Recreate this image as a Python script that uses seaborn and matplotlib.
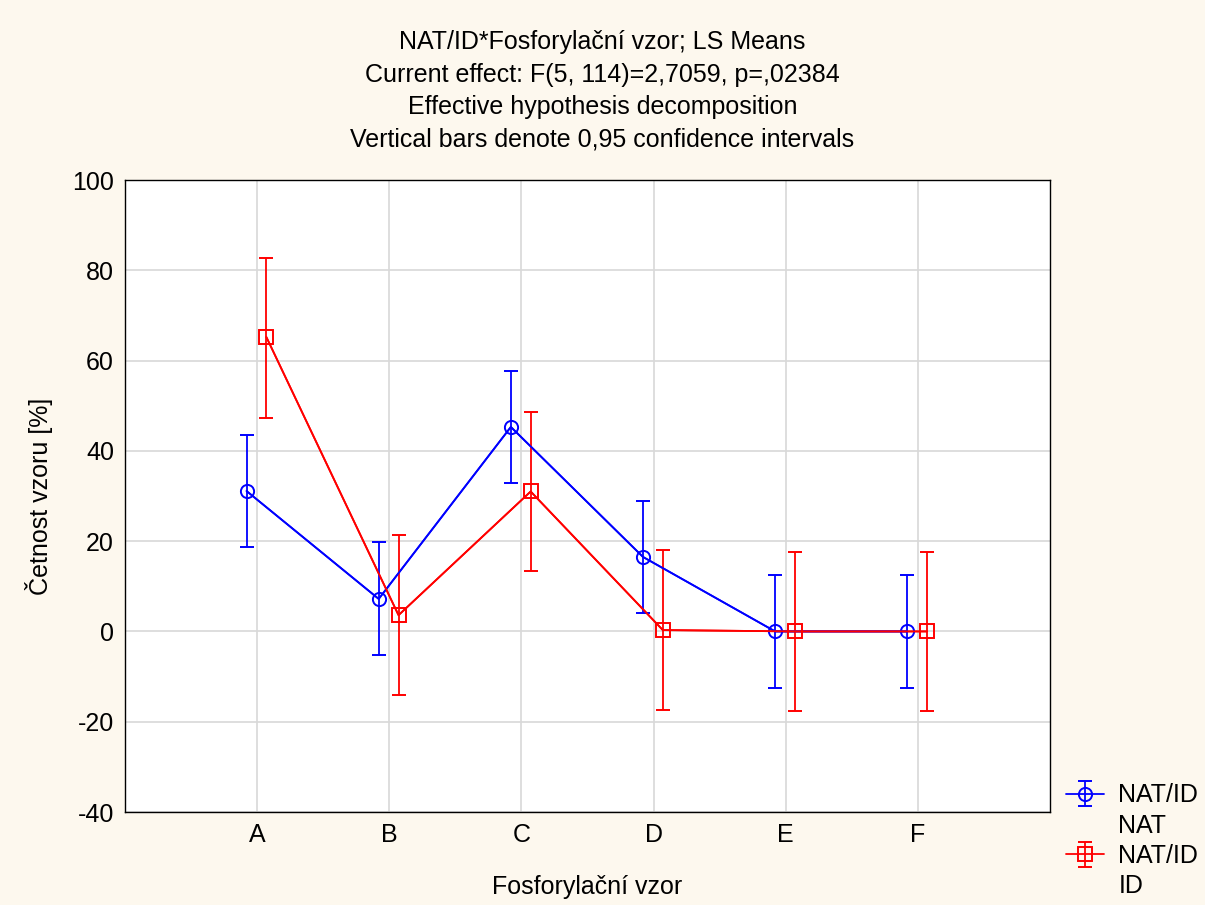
import numpy as np
import pandas as pd
import matplotlib
matplotlib.use("Agg")
import matplotlib.pyplot as plt
from matplotlib.lines import Line2D
import seaborn as sns

categories = ["A", "B", "C", "D", "E", "F"]
nat_mean = [31.1, 7.2, 45.3, 16.5, 0.0, 0.0]
nat_lo = [18.6, -5.3, 32.8, 4.0, -12.5, -12.5]
nat_hi = [43.6, 19.7, 57.8, 29.0, 12.5, 12.5]
id_mean = [65.2, 3.6, 31.0, 0.3, 0.0, 0.0]
id_lo = [47.3, -14.0, 13.3, -17.4, -17.7, -17.7]
id_hi = [82.8, 21.3, 48.7, 18.0, 17.7, 17.7]
groups = ["NAT", "ID"]
factor = "NAT/ID"
yticks = [-40, -20, 0, 20, 40, 60, 80, 100]

sns.set_theme(style="whitegrid")
plt.rcParams["font.family"] = ["Liberation Sans", "DejaVu Sans"]
plt.rcParams["axes.unicode_minus"] = False

FS = 18
fig = plt.figure(figsize=(12.05, 9.05), dpi=100, facecolor="#fdf8ee")
ax = fig.add_axes([125/1205, 1 - 812/905, (1050-125)/1205, (812-180)/905])
ax.set_facecolor("white")

x = np.arange(len(categories))
offs = [-0.08, 0.07]
colors = ["#0000ff", "#ff0000"]
markers = ["o", "s"]
series = [(nat_mean, nat_lo, nat_hi), (id_mean, id_lo, id_hi)]

df = pd.concat([
    pd.DataFrame({"x": x + offs[i], "y": s[0], "group": groups[i]})
    for i, s in enumerate(series)
])
sns.lineplot(data=df, x="x", y="y", hue="group", palette=colors, ax=ax,
             legend=False, linewidth=1.3, sort=False)

handles = []
labels = []
for i, (m, lo, hi) in enumerate(series):
    m = np.array(m); lo = np.array(lo); hi = np.array(hi)
    h = ax.errorbar(x + offs[i], m, yerr=[m - lo, hi - m], fmt=markers[i],
                    color=colors[i], mfc="none", mec=colors[i], ms=9.5, mew=1.4,
                    capsize=5, elinewidth=1.3, capthick=1.3, linestyle="-",
                    linewidth=1.3)
    handles += [h, Line2D([], [], color="none")]
    labels += [factor, groups[i]]

ax.set_xlim(-1, 6)
ax.set_ylim(-40, 100)
ax.set_xticks(x)
ax.set_xticklabels(categories)
ax.set_yticks(yticks)
ax.grid(True, color="#d8d8d8", linewidth=1.2)
for sp in ax.spines.values():
    sp.set_color("black")
    sp.set_linewidth(1.0)
ax.tick_params(axis="both", labelsize=FS, colors="black", length=0, pad=8)
ax.set_xlabel("Fosforylační vzor", fontsize=FS, color="black", labelpad=20)
ax.set_ylabel("Četnost vzoru [%]", fontsize=FS, color="black", labelpad=14)

fig.text(0.5, 1 - 30/905,
         "NAT/ID*Fosforylační vzor; LS Means\nCurrent effect: F(5, 114)=2,7059, p=,02384\n"
         "Effective hypothesis decomposition\nVertical bars denote 0,95 confidence intervals",
         ha="center", va="top", fontsize=FS, linespacing=1.45, color="black")

fig.legend(handles=handles, labels=labels, loc="lower left",
           bbox_to_anchor=(1066/1205, 1 - 898/905), frameon=False, fontsize=FS,
           handlelength=1.5, handletextpad=0.6, labelspacing=0.25,
           borderaxespad=0.0, borderpad=0.0, labelcolor="black")

fig.savefig("out.png", dpi=100, facecolor=fig.get_facecolor())
